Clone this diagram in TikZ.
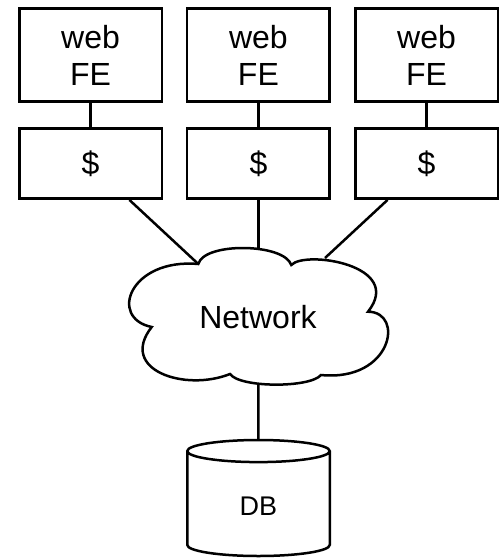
\documentclass[tikz,border=0pt]{standalone}
\usepackage{fontspec}
\setmainfont{Liberation Sans}
\usetikzlibrary{shapes.geometric}

\begin{document}
\begin{tikzpicture}[x=1pt,y=-1pt,line width=2.5pt,
  every node/.style={draw,font=\fontsize{32}{37}\selectfont},
  fe/.style={rectangle,minimum width=142.5pt,minimum height=93pt,align=center},
  cache/.style={rectangle,minimum width=142.5pt,minimum height=70pt}]
  \useasboundingbox (0,0) rectangle (502,558);
  % front ends and their caches
  \node[fe] (fe1) at (90.5,55.2) {web\\FE};
  \node[fe] (fe2) at (258.4,55.2) {web\\FE};
  \node[fe] (fe3) at (426.5,55.2) {web\\FE};
  \node[cache] (c1) at (90.5,163.7) {\$};
  \node[cache] (c2) at (258.4,163.7) {\$};
  \node[cache] (c3) at (426.5,163.7) {\$};
  % network cloud
  \node[draw=none] (net) at (258,317) {Network};
  \draw (198.3,264) .. controls (204,242) and (284,243) .. (291.3,265)
    .. controls (305,250) and (405,265) .. (368,311.7)
    .. controls (405,312) and (392,382) .. (321,375)
    .. controls (310,388) and (240,388) .. (230,374)
    .. controls (185,392) and (118,370) .. (151.7,327)
    .. controls (108,318) and (130,258) .. cycle;
  \coordinate (n1) at (198.3,264);
  \coordinate (n2) at (258.4,250);
  \coordinate (n3) at (325,258);
  \coordinate (n4) at (258.4,384.5);
  % database
  \node[cylinder,shape border rotate=90,aspect=0.5,minimum width=142.5pt,minimum height=116pt,
    font=\fontsize{27}{32}\selectfont,text height=20pt,text depth=0pt,
    anchor=shape center] (db) at (258.5,498) {DB};
  \draw (fe1) -- (c1);
  \draw (fe2) -- (c2);
  \draw (fe3) -- (c3);
  \draw (c1) -- (n1);
  \draw (c2) -- (n2);
  \draw (c3) -- (n3);
  \draw (n4) -- (db);
\end{tikzpicture}
\end{document}
